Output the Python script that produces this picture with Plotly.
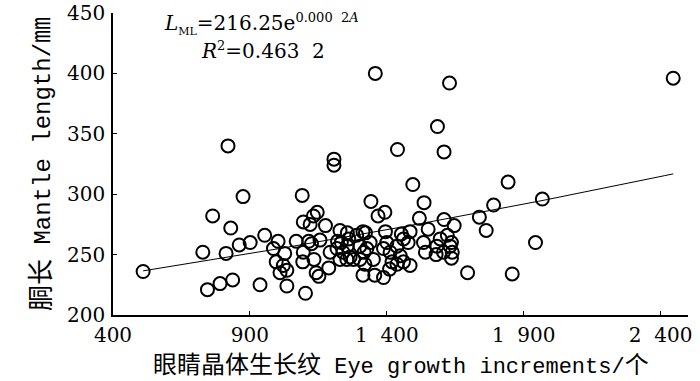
import numpy as np
import plotly.graph_objects as go

# Eye growth increments (count) and mantle length (mm)
increments = [510, 728, 764, 830, 875, 813, 861, 901, 745, 791, 837, 937, 954, 820,
              1207, 1207, 1091, 986, 1003, 1027, 996, 1022, 1035, 1010, 1035, 1069,
              1115, 1093, 1134, 1142, 1152, 1103, 1095, 1120, 1132, 1146, 1176, 1188,
              1193, 1229, 1256, 1234, 1255, 1240, 1229, 1266, 1218, 1290, 1313, 1302,
              1327, 1302, 1313, 1156, 1342, 1536, 1393, 1368, 1519, 1609, 1646, 1551,
              1395, 1322, 1453, 1485, 1339, 1317, 1351, 1320, 1400, 1388, 1412, 1437,
              1461, 1478, 1449, 1419, 1410, 1437, 1461, 1485, 1534, 1541, 1583, 1595,
              1621, 1631, 1607, 1636, 1580, 1356, 1388, 1790, 1738, 1763, 1968, 1943,
              1695, 1858, 1636, 1639, 1358, 1629, 1585, 1439, 1609, 1495, 1843, 2446,
              1095, 1125, 1261, 1254, 1278, 1220]
mantle = [236, 252, 282, 272, 298, 251, 258, 260, 221, 226, 229, 225, 266, 340,
          329, 324, 299, 255, 261, 251, 244, 241, 237, 235, 224, 261,
          261, 244, 246, 235, 232, 218, 277, 275, 282, 285, 274, 239,
          252, 270, 268, 260, 257, 252, 246, 248, 255, 266, 269, 257,
          255, 246, 233, 262, 294, 293, 285, 282, 280, 279, 274, 271,
          269, 268, 267, 269, 260, 252, 246, 242, 260, 255, 252, 257,
          263, 260, 249, 244, 238, 242, 244, 241, 260, 252, 257, 263,
          266, 257, 252, 247, 250, 233, 231, 291, 281, 270, 296, 260,
          235, 234, 260, 252, 400, 392, 356, 337, 335, 308, 310, 396,
          252, 259, 263, 246, 246, 261]

# Fitted curve parameters (as drawn)
fit_a = 219.0
fit_b = 0.000151

x_tickvals = [400, 900, 1400, 1900, 2400]
x_ticktext = ["400", "900", "1\u2007400", "1\u2007900", "2\u2007400"]
y_tickvals = [200, 250, 300, 350, 400, 450]
y_ticktext = ["200", "250", "300", "350", "400", "450"]

eq_line1 = ("<i>L</i><sub><span style='font-size:11px'>ML</span></sub>=216.25e"
            "<sup><span style='font-size:13px'>0.000\u20072<i>A</i></span></sup>")
eq_line2 = "<i>R</i><sup><span style='font-size:13px'>2</span></sup>=0.463\u20072"

x_title = ("<span style='font-family:Noto Sans CJK SC;font-size:24px'>眼睛晶体生长纹</span>"
           " Eye growth increments/"
           "<span style='font-family:Noto Sans CJK SC;font-size:24px'>个</span>")
y_title = ("<span style='font-family:Noto Sans CJK SC;font-size:26px'>胴长</span>"
           " Mantle length/"
           "<span style='font-family:Noto Sans CJK SC;font-size:26px'>㎜</span>")

xs_fit = np.linspace(min(increments), max(increments), 60)
ys_fit = fit_a * np.exp(fit_b * xs_fit)

fig = go.Figure()
fig.add_trace(go.Scatter(
    x=increments, y=mantle, mode="markers",
    marker=dict(symbol="circle-open", size=13, color="black",
                line=dict(width=2, color="black")),
    showlegend=False, hoverinfo="x+y", cliponaxis=False))
fig.add_trace(go.Scatter(
    x=xs_fit, y=ys_fit, mode="lines",
    line=dict(color="black", width=1), showlegend=False))

tickfont = dict(family="DejaVu Serif", size=20, color="black")
fig.update_xaxes(range=[400, 2500], tickvals=x_tickvals, ticktext=x_ticktext,
                 ticks="inside", ticklen=4, tickwidth=1.3, tickcolor="black",
                 showline=True, linecolor="black", linewidth=1.6,
                 showgrid=False, zeroline=False, tickfont=tickfont,
                 ticklabelstandoff=1, automargin=False)
fig.update_yaxes(range=[200, 450], tickvals=y_tickvals, ticktext=y_ticktext,
                 ticks="inside", ticklen=4, tickwidth=1.3, tickcolor="black",
                 showline=True, linecolor="black", linewidth=1.6,
                 showgrid=False, zeroline=False, tickfont=tickfont,
                 ticklabelstandoff=2, automargin=False)

fig.add_annotation(text=x_title, xref="paper", yref="paper", x=0.5, y=0,
                   xanchor="center", yanchor="middle", yshift=-47,
                   showarrow=False,
                   font=dict(family="Liberation Mono, Noto Sans CJK SC", size=22,
                             color="black"))
fig.add_annotation(text=y_title, xref="paper", yref="paper", x=0, y=0.5,
                   xanchor="center", yanchor="middle", xshift=-75, textangle=-90,
                   showarrow=False,
                   font=dict(family="Liberation Mono, Noto Sans CJK SC", size=24,
                             color="black"))

eqfont = dict(family="DejaVu Serif", size=20, color="black")
fig.add_annotation(text=eq_line1, xref="paper", yref="paper", x=0.085, y=0.965,
                   xanchor="left", yanchor="middle", showarrow=False, font=eqfont)
fig.add_annotation(text=eq_line2, xref="paper", yref="paper", x=0.15, y=0.875,
                   xanchor="left", yanchor="middle", showarrow=False, font=eqfont)

fig.update_layout(width=700, height=381, margin=dict(l=113, r=12, t=13, b=66),
                  paper_bgcolor="white", plot_bgcolor="white")
fig.write_html("out.html", config={"displayModeBar": False},
               post_script="document.body.style.margin='0px';"
                           "document.body.style.overflow='hidden';")
